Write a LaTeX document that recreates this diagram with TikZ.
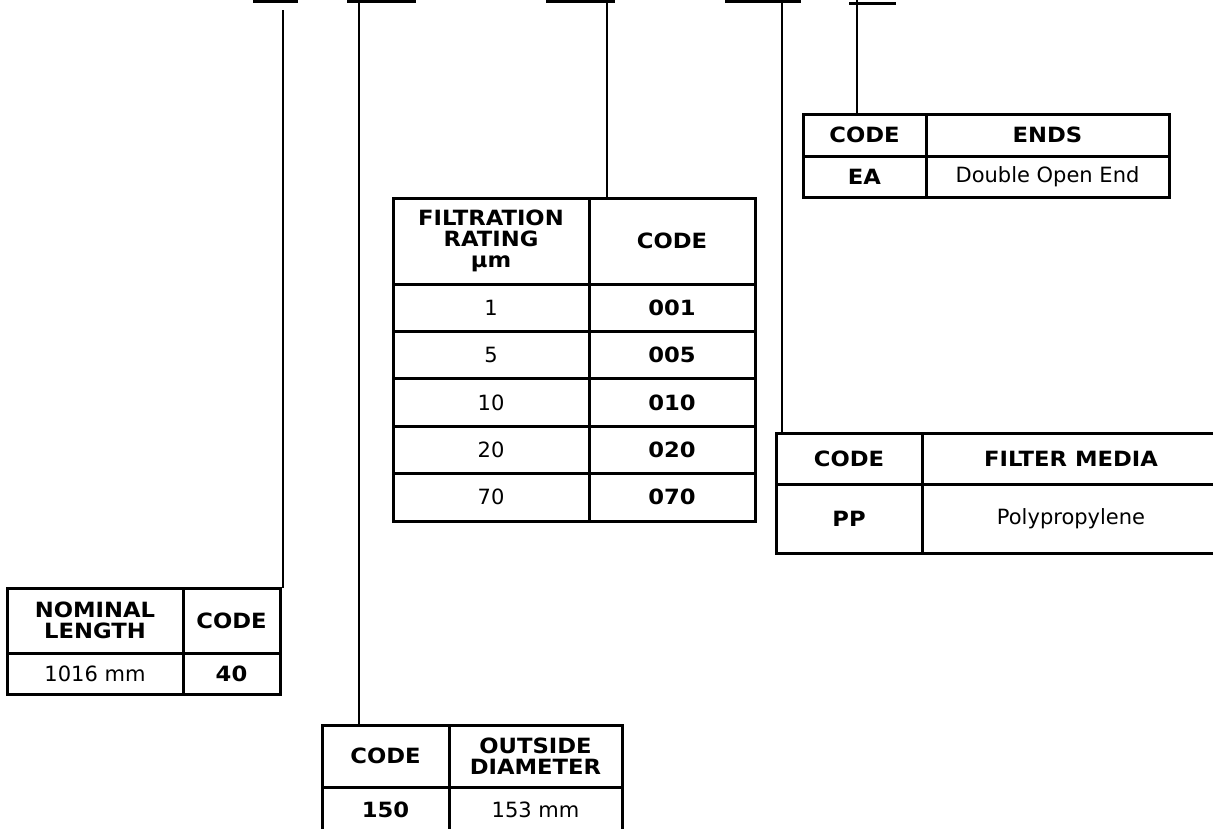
\documentclass[tikz,border=0pt]{standalone}
\usepackage{fontspec}
\setmainfont{DejaVu Sans}[BoldFeatures={FakeStretch=1.08}]
\usetikzlibrary{positioning}

\begin{document}
\begin{tikzpicture}[
        x=1pt, y=-1pt,
        node distance=0pt,
        cell/.style={rectangle, draw=black, line width=3pt, outer sep=0pt, inner sep=0pt, align=center, font=\fontsize{21}{21}\selectfont},
        head_cell/.style={cell, font=\fontsize{21}{21}\selectfont\bfseries},
        bar_node/.style={rectangle, fill=black, inner sep=0pt, outer sep=0pt, minimum height=3.4pt, anchor=north west},
        lead/.style={draw=black, line width=2pt}
    ]
    \clip (0,0) rectangle (1213,828);

    % Part number bars
    \node[bar_node, minimum width=45pt] (b1) at (253,0) {};
    \node[bar_node, minimum width=69pt] (b2) at (347,0) {};
    \node[bar_node, minimum width=69pt] (b3) at (546,0) {};
    \node[bar_node, minimum width=76pt] (b4) at (725,0) {};
    \node[bar_node, minimum width=47pt] (b5) at (849,2) {};

    % Nominal length
    \node[head_cell, minimum width=176pt, minimum height=65pt, anchor=north west] (nl_h1) at (7,588) {NOMINAL\\LENGTH};
    \node[head_cell, minimum width=97pt, minimum height=65pt, right=of nl_h1] (nl_h2) {CODE};
    \node[cell, minimum width=176pt, minimum height=41pt, below=of nl_h1] (nl_v1) {1016 mm};
    \node[cell, minimum width=97pt, minimum height=41pt, below=of nl_h2] (nl_v2) {\textbf{40}};

    % Outside diameter
    \node[head_cell, minimum width=127pt, minimum height=62pt, anchor=north west] (od_h1) at (322,725) {CODE};
    \node[head_cell, minimum width=173pt, minimum height=62pt, right=of od_h1] (od_h2) {OUTSIDE\\DIAMETER};
    \node[cell, minimum width=127pt, minimum height=45pt, below=of od_h1] (od_v1) {\textbf{150}};
    \node[cell, minimum width=173pt, minimum height=45pt, below=of od_h2] (od_v2) {153 mm};

    % Filtration rating
    \node[head_cell, minimum width=196pt, minimum height=86pt, anchor=north west] (fr_h1) at (393,198) {FILTRATION\\RATING\\µm};
    \node[head_cell, minimum width=166pt, minimum height=86pt, right=of fr_h1] (fr_h2) {CODE};
    \node[cell, minimum width=196pt, minimum height=47.4pt, below=of fr_h1] (fr_a1) {1};
    \node[cell, minimum width=166pt, minimum height=47.4pt, below=of fr_h2] (fr_a2) {\textbf{001}};
    \node[cell, minimum width=196pt, minimum height=47.4pt, below=of fr_a1] (fr_b1) {5};
    \node[cell, minimum width=166pt, minimum height=47.4pt, below=of fr_a2] (fr_b2) {\textbf{005}};
    \node[cell, minimum width=196pt, minimum height=47.4pt, below=of fr_b1] (fr_c1) {10};
    \node[cell, minimum width=166pt, minimum height=47.4pt, below=of fr_b2] (fr_c2) {\textbf{010}};
    \node[cell, minimum width=196pt, minimum height=47.4pt, below=of fr_c1] (fr_d1) {20};
    \node[cell, minimum width=166pt, minimum height=47.4pt, below=of fr_c2] (fr_d2) {\textbf{020}};
    \node[cell, minimum width=196pt, minimum height=47.4pt, below=of fr_d1] (fr_e1) {70};
    \node[cell, minimum width=166pt, minimum height=47.4pt, below=of fr_d2] (fr_e2) {\textbf{070}};

    % Filter media
    \node[head_cell, minimum width=146pt, minimum height=51pt, anchor=north west] (fm_h1) at (776,433) {CODE};
    \node[head_cell, minimum width=298pt, minimum height=51pt, right=of fm_h1] (fm_h2) {FILTER MEDIA};
    \node[cell, minimum width=146pt, minimum height=69pt, below=of fm_h1] (fm_v1) {\textbf{PP}};
    \node[cell, minimum width=298pt, minimum height=69pt, below=of fm_h2] (fm_v2) {Polypropylene};

    % Ends
    \node[head_cell, minimum width=123pt, minimum height=42pt, anchor=north west] (en_h1) at (803,114) {CODE};
    \node[head_cell, minimum width=243pt, minimum height=42pt, right=of en_h1] (en_h2) {ENDS};
    \node[cell, minimum width=123pt, minimum height=41pt, below=of en_h1] (en_v1) {\textbf{EA}};
    \node[cell, minimum width=243pt, minimum height=41pt, below=of en_h2] (en_v2) {Double Open End};

    % Leaders
    \coordinate (nl_in) at ([xshift=3pt]nl_h2.north east);
    \coordinate (od_in) at ([xshift=37pt]od_h1.north west);
    \coordinate (fr_in) at ([xshift=18pt]fr_h2.north west);
    \coordinate (fm_in) at ([xshift=6pt]fm_h1.north west);
    \coordinate (en_in) at ([xshift=54pt]en_h1.north west);
    \draw[lead, shorten >=7pt] (nl_in) -- (nl_in |- b1.south);
    \draw[lead] (od_in) -- (od_in |- b2.south);
    \draw[lead] (fr_in) -- (fr_in |- b3.south);
    \draw[lead] (fm_in) -- (fm_in |- b4.south);
    \draw[lead, shorten >=-2pt] (en_in) -- (en_in |- b5.north);

\end{tikzpicture}
\end{document}
